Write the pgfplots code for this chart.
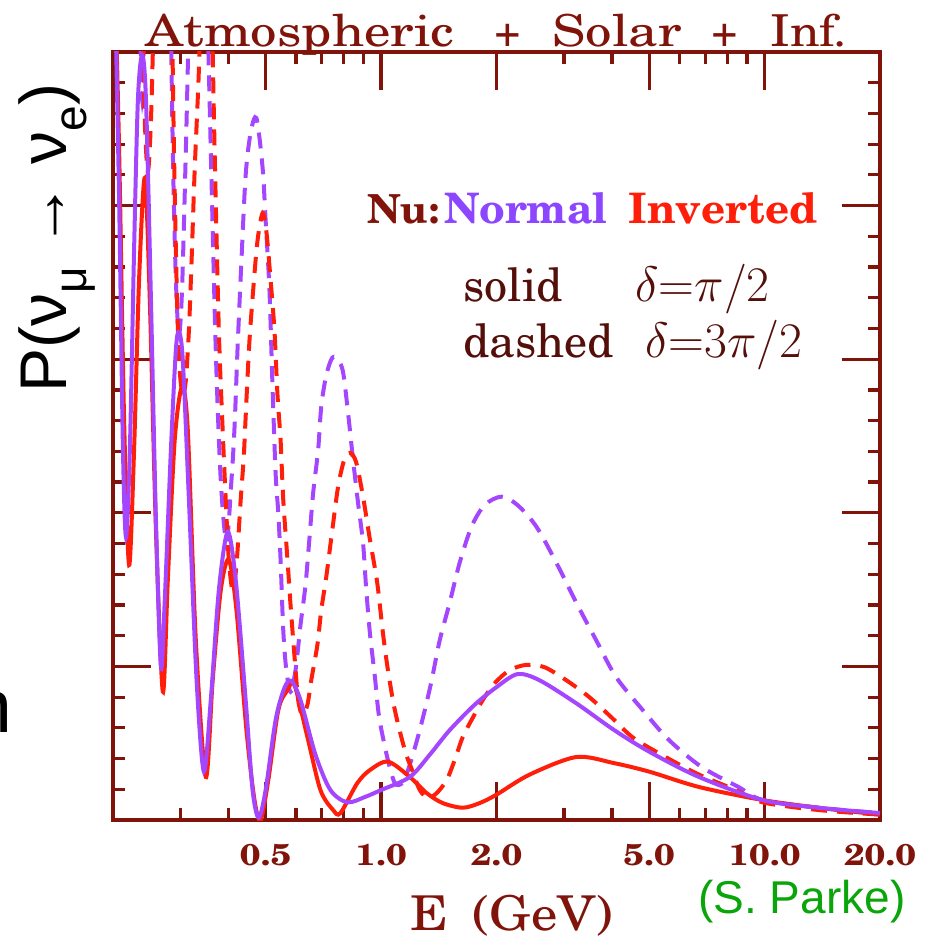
\documentclass[border=0pt]{standalone}
\usepackage[T1,TU]{fontenc}
\usepackage{fontspec}
\usepackage{graphicx}
\usepackage{pgfplots}
\usepackage{pgfplotstable}
\pgfplotsset{compat=1.18}
\newfontfamily\arial{Liberation Sans}
\newcommand\ncs{\fontencoding{T1}\fontfamily{pnc}\fontseries{m}\fontshape{n}\selectfont}
\newcommand\ncsb{\fontencoding{T1}\fontfamily{pnc}\fontseries{b}\fontshape{n}\selectfont}
\definecolor{axiscol}{RGB}{128,20,10}
\definecolor{purplec}{RGB}{165,70,255}
\definecolor{redc}{RGB}{255,30,10}
\definecolor{textdark}{RGB}{85,15,10}
\definecolor{normaltext}{RGB}{140,70,255}
\definecolor{greenc}{RGB}{10,165,10}

% x = log10(E/GeV), y = probability (arbitrary units, full axis = 1)
\pgfplotstableread{
lgE P
-0.696 1.133
-0.683 0.807
-0.673 0.482
-0.665 0.368
-0.655 0.482
-0.644 0.742
-0.634 0.938
-0.623 0.996
-0.613 0.938
-0.600 0.677
-0.587 0.391
-0.574 0.199
-0.564 0.286
-0.548 0.482
-0.535 0.612
-0.527 0.635
-0.517 0.599
-0.501 0.417
-0.481 0.182
-0.462 0.063
-0.444 0.156
-0.423 0.299
-0.400 0.375
-0.379 0.313
-0.353 0.156
-0.335 0.039
-0.319 0.003
-0.301 0.039
-0.275 0.130
-0.252 0.172
-0.234 0.181
-0.210 0.156
-0.171 0.085
-0.132 0.039
-0.088 0.023
-0.042 0.030
0.000 0.039
0.075 0.056
0.127 0.085
0.179 0.117
0.244 0.150
0.301 0.173
0.356 0.190
0.413 0.182
0.509 0.152
0.608 0.117
0.699 0.089
0.829 0.056
0.995 0.026
1.140 0.016
1.301 0.009
}\PS

\pgfplotstableread{
lgE P
-0.696 1.133
-0.683 0.872
-0.670 0.521
-0.657 0.332
-0.644 0.482
-0.631 0.703
-0.616 0.836
-0.603 0.677
-0.587 0.378
-0.569 0.167
-0.556 0.313
-0.538 0.495
-0.519 0.564
-0.504 0.508
-0.483 0.234
-0.457 0.056
-0.439 0.182
-0.418 0.299
-0.397 0.339
-0.377 0.273
-0.351 0.117
-0.330 0.026
-0.314 0.000
-0.294 0.052
-0.268 0.143
-0.244 0.169
-0.226 0.176
-0.192 0.108
-0.158 0.039
-0.125 0.013
-0.106 0.009
-0.062 0.048
-0.029 0.065
0.018 0.076
0.075 0.056
0.119 0.035
0.161 0.022
0.213 0.016
0.257 0.022
0.301 0.033
0.387 0.059
0.509 0.082
0.608 0.074
0.699 0.063
0.829 0.043
0.995 0.026
1.140 0.016
1.301 0.007
}\RS

\pgfplotstableread{
lgE P
-0.696 1.589
-0.652 1.458
-0.634 1.198
-0.623 0.938
-0.613 1.198
-0.595 1.523
-0.566 1.523
-0.553 1.198
-0.543 0.872
-0.535 0.703
-0.527 0.632
-0.519 0.690
-0.509 0.872
-0.496 1.133
-0.475 1.393
-0.457 1.133
-0.444 0.872
-0.431 0.612
-0.418 0.443
-0.403 0.362
-0.390 0.443
-0.382 0.512
-0.374 0.616
-0.364 0.729
-0.353 0.840
-0.340 0.895
-0.325 0.914
-0.309 0.850
-0.301 0.781
-0.291 0.690
-0.283 0.564
-0.275 0.452
-0.268 0.400
-0.262 0.339
-0.255 0.247
-0.247 0.195
-0.236 0.167
-0.223 0.195
-0.210 0.254
-0.197 0.306
-0.187 0.365
-0.177 0.426
-0.164 0.482
-0.156 0.538
-0.143 0.579
-0.127 0.602
-0.112 0.599
-0.099 0.583
-0.086 0.530
-0.073 0.469
-0.060 0.413
-0.047 0.361
-0.039 0.303
-0.029 0.243
-0.016 0.186
-0.005 0.134
0.016 0.082
0.036 0.048
0.057 0.049
0.075 0.072
0.096 0.108
0.114 0.143
0.132 0.182
0.153 0.234
0.179 0.283
0.205 0.335
0.236 0.382
0.270 0.410
0.314 0.421
0.356 0.410
0.405 0.382
0.457 0.335
0.509 0.283
0.561 0.234
0.613 0.186
0.686 0.141
0.751 0.104
0.836 0.069
0.932 0.043
0.995 0.026
1.140 0.016
1.301 0.009
}\PD

\pgfplotstableread{
lgE P
-0.696 1.328
-0.665 1.458
-0.639 1.328
-0.623 1.068
-0.616 0.911
-0.608 0.844
-0.600 0.911
-0.592 1.068
-0.579 1.393
-0.561 1.393
-0.548 1.133
-0.540 0.872
-0.532 0.677
-0.525 0.586
-0.517 0.553
-0.509 0.573
-0.501 0.638
-0.494 0.729
-0.486 0.846
-0.475 0.977
-0.465 1.146
-0.452 1.198
-0.442 1.068
-0.434 0.872
-0.423 0.638
-0.413 0.508
-0.405 0.417
-0.397 0.339
-0.387 0.299
-0.377 0.332
-0.366 0.417
-0.358 0.473
-0.351 0.547
-0.343 0.625
-0.332 0.699
-0.322 0.755
-0.309 0.790
-0.299 0.766
-0.288 0.703
-0.278 0.638
-0.270 0.553
-0.262 0.495
-0.255 0.417
-0.244 0.339
-0.236 0.280
-0.226 0.215
-0.216 0.156
-0.205 0.137
-0.192 0.150
-0.182 0.182
-0.166 0.228
-0.156 0.273
-0.143 0.316
-0.127 0.378
-0.112 0.434
-0.096 0.469
-0.081 0.478
-0.065 0.466
-0.047 0.421
-0.029 0.365
-0.010 0.309
0.005 0.243
0.018 0.195
0.036 0.143
0.062 0.091
0.081 0.065
0.101 0.039
0.122 0.029
0.145 0.035
0.171 0.052
0.192 0.078
0.213 0.108
0.239 0.133
0.265 0.156
0.296 0.178
0.335 0.195
0.379 0.202
0.426 0.199
0.483 0.182
0.543 0.160
0.600 0.134
0.655 0.108
0.717 0.089
0.821 0.061
0.925 0.039
0.995 0.023
1.140 0.013
1.301 0.007
}\RD

\begin{document}
\begin{tikzpicture}
\begin{axis}[
  scale only axis, width=383.5pt, height=384pt,
  xmin=-0.69897, xmax=1.30103, ymin=0, ymax=1,
  axis line style={draw=axiscol, line width=2pt},
  xtick={-0.30103,0,0.30103,0.69897,1,1.30103},
  xticklabels={\scalebox{1.2}[1]{0.5},\scalebox{1.2}[1]{1.0},\scalebox{1.2}[1]{2.0},\scalebox{1.2}[1]{5.0},\scalebox{1.2}[1]{10.0},\scalebox{1.2}[1]{20.0}},
  minor xtick={-0.52288,-0.39794,-0.22185,-0.15490,-0.09691,-0.04576,0.47712,0.60206,0.77815,0.84510,0.90309,0.95424},
  ytick={0,0.2,0.4,0.6,0.8,1},
  yticklabels={},
  minor y tick num=4,
  tick align=inside,
  major tick length=19pt, minor tick length=6pt,
  tick style={draw=axiscol, line width=1.6pt},
  xticklabel style={anchor=base, yshift=-22.5pt, inner sep=0pt, text=axiscol, font={\fontsize{15}{18}\ncsb}},
  clip=true,
]
\addplot[purplec, line width=2pt, dash pattern=on 8pt off 5pt, smooth, tension=0.5] table[x=lgE, y=P] {\PD};
\addplot[redc, line width=2pt, dash pattern=on 8pt off 5pt, smooth, tension=0.5] table[x=lgE, y=P] {\RD};
\addplot[redc, line width=2pt, smooth, tension=0.5] table[x=lgE, y=P] {\RS};
\addplot[purplec, line width=2pt, smooth, tension=0.5] table[x=lgE, y=P] {\PS};
\end{axis}
% title
\node[anchor=base west, inner sep=0pt, text=axiscol] at (16pt,386.6pt) {\fontsize{22}{26}\ncs\scalebox{1.2}[1]{Atmospheric}};
\node[anchor=base, inner sep=0pt, text=axiscol] at (197.5pt,386.6pt) {\fontsize{22}{26}\ncs +};
\node[anchor=base west, inner sep=0pt, text=axiscol] at (219.5pt,386.6pt) {\fontsize{22}{26}\ncs\scalebox{1.2}[1]{Solar}};
\node[anchor=base, inner sep=0pt, text=axiscol] at (306pt,386.6pt) {\fontsize{22}{26}\ncs +};
\node[anchor=base west, inner sep=0pt, text=axiscol] at (328.5pt,386.6pt) {\fontsize{22}{26}\ncs\scalebox{1.1}[1]{Inf.}};
% x label
\node[anchor=base west, inner sep=0pt, text=axiscol] at (148.5pt,-55pt) {\fontsize{24}{28}\ncs\scalebox{1.1}[1]{E}};
\node[anchor=base west, inner sep=0pt, text=axiscol] at (179.5pt,-55pt) {\fontsize{24}{28}\ncs\scalebox{1.1}[1]{(GeV)}};
% y label
\node[rotate=90, anchor=base west, inner sep=0pt, text=black] at (-23pt,213.5pt) {\arial\fontsize{33}{36}\selectfont P(ν\raisebox{-0.3em}{\fontsize{23}{23}\selectfont μ} → ν\raisebox{-0.3em}{\fontsize{23}{23}\selectfont e})};
% legend text
\node[anchor=base west, inner sep=0pt, text=axiscol] at (127pt,298pt) {\fontsize{20}{24}\ncsb Nu:};
\node[anchor=base west, inner sep=0pt, text=normaltext] at (165.5pt,298pt) {\fontsize{21}{24}\ncsb Normal};
\node[anchor=base west, inner sep=0pt, text=redc] at (257.5pt,298pt) {\fontsize{21}{24}\ncsb Inverted};
\node[anchor=base west, inner sep=0pt, text=textdark] at (175pt,259pt) {\fontsize{23}{26}\ncs solid};
\node[anchor=base west, inner sep=0pt, text=textdark] at (261pt,259pt) {\fontsize{23}{26}\selectfont $\delta{=}\pi/2$};
\node[anchor=base west, inner sep=0pt, text=textdark] at (175pt,231pt) {\fontsize{23}{26}\ncs dashed};
\node[anchor=base west, inner sep=0pt, text=textdark] at (266pt,231pt) {\fontsize{23}{26}\selectfont $\delta{=}3\pi/2$};
% credit and stray slide text (cut by the page edge, as in the reference)
\node[anchor=base west, inner sep=0pt, text=greenc] at (292.5pt,-46.5pt) {\arial\fontsize{23}{26}\selectfont (S. Parke)};
\node[anchor=base east, inner sep=0pt, text=black] at (-50pt,44pt) {\arial\fontsize{37.6}{40}\selectfont n};
\pgfresetboundingbox
\useasboundingbox (-56.5pt,-59.5pt) rectangle (412pt,410pt);
\end{tikzpicture}
\end{document}
